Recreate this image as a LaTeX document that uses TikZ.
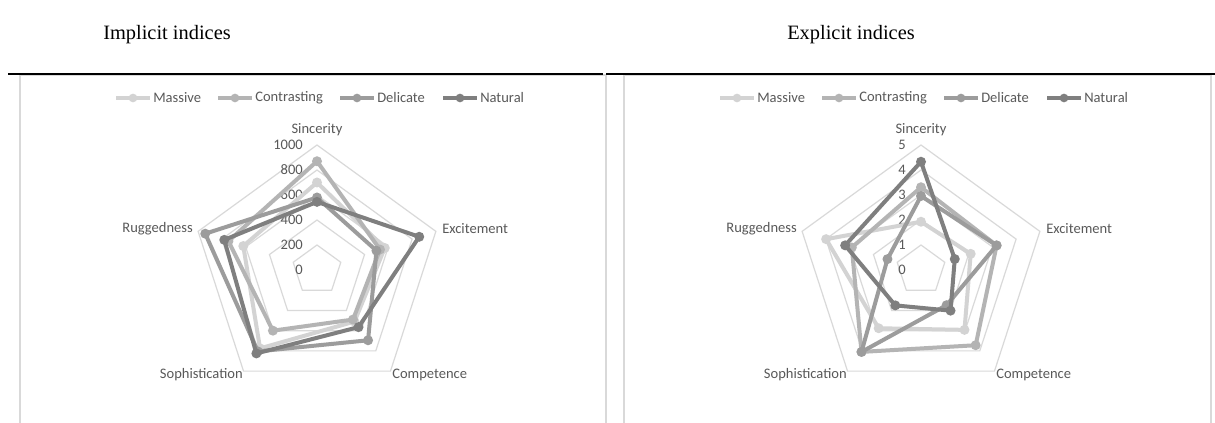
\documentclass[tikz,border=0pt]{standalone}
\usepackage{fontspec}
\setmainfont{Liberation Serif}
\newfontfamily\calfont{Carlito}
\definecolor{cMas}{HTML}{D3D3D3}
\definecolor{cCon}{HTML}{B4B4B4}
\definecolor{cDel}{HTML}{9C9C9C}
\definecolor{cNat}{HTML}{7F7F7F}
\definecolor{cGrid}{HTML}{D9D9D9}
\definecolor{cTxt}{HTML}{595959}
\tikzset{
  ser/.style={line width=3, line join=round, line cap=round},
  dot/.style={circle, inner sep=0pt, minimum size=7.5},
  ldot/.style={circle, inner sep=0pt, minimum size=6.5},
  grid/.style={draw=cGrid, line width=0.9},
  frame/.style={draw=cGrid, line width=0.9},
  lab/.style={text=cTxt, font=\calfont\fontsize{10.9}{13}\selectfont, inner sep=0pt},
  ttl/.style={font=\fontsize{15.3}{18}\selectfont, inner sep=0pt},
  rule/.style={draw=black, line width=1.1}
}
\newcommand{\radarseries}[5]{%
  \foreach \v [count=\k from 0] in {#5} {\coordinate (#1-\k) at ({#2+\v*#3*cos(90-72*\k)},{270-\v*#3*sin(90-72*\k)});}
  \draw[ser,#4] (#1-0) -- (#1-1) -- (#1-2) -- (#1-3) -- (#1-4) -- cycle;
  \foreach \k in {0,...,4} {\node[dot,fill=#4] (#1-m\k) at (#1-\k) {};}
}
\newcommand{\radargrid}[2]{%
  \foreach \i in {1,...,5} {
    \draw[grid] ({#1},{270-25*\i}) -- ({#1+25*\i*cos(18)},{270-25*\i*sin(18)}) -- ({#1+25*\i*cos(-54)},{270-25*\i*sin(-54)}) -- ({#1+25*\i*cos(234)},{270-25*\i*sin(234)}) -- ({#1+25*\i*cos(162)},{270-25*\i*sin(162)}) -- cycle;
  }
  \node[lab] (#2-sin) at (#1,130) {Sincerity};
  \node[lab,anchor=west] (#2-exc) at ({#1+125},229) {Excitement};
  \node[lab,anchor=west] (#2-com) at ({#1+75},375) {Competence};
  \node[lab,anchor=east] (#2-sop) at ({#1-74},375) {Sophistication};
  \node[lab,anchor=east] (#2-rug) at ({#1-124},229) {Ruggedness};
}
\newcommand{\legenditem}[4]{% name, x start, color, text
  \coordinate (#1-a) at (#2,98);
  \coordinate (#1-b) at ({#2+34},98);
  \draw[line width=3,#3] (#1-a) -- (#1-b);
  \node[ldot,fill=#3] (#1-m) at ({#2+17},98) {};
  \node[lab,anchor=west] (#1-t) at ({#2+37},98) {#4};
}
\begin{document}
\begin{tikzpicture}[x=0.75pt,y=-0.75pt]
\useasboundingbox (0,0) rectangle (1215,423);
\clip (0,0) rectangle (1215,423);
\fill[white] (0,0) rectangle (1215,423);
% titles
\node[ttl] (t1) at (167,35) {Implicit indices};
\node[ttl] (t2) at (851,35) {Explicit indices};
% frames
\draw[frame] (20,75) rectangle (606,440);
\draw[frame] (624,75) rectangle (1211,440);
% rules
\draw[rule] (8,74) -- (603,74);
\draw[rule] (606,74) -- (1215,74);
\draw[draw=black,line width=2.2] (8,74) -- (20,74);
\draw[draw=black,line width=2.2] (606,74) -- (624,74);
% left chart
\radargrid{317}{L}
\foreach \val [count=\i from 0] in {0,200,400,600,800,1000} {
  \node[lab,anchor=east] (L-v\i) at (303,{270-25*\i}) {\val};
}
\radarseries{LM}{317}{0.125}{cMas}{700,570,510,775,620}
\radarseries{LC}{317}{0.125}{cCon}{870,530,490,600,745}
\radarseries{LD}{317}{0.125}{cDel}{580,500,695,805,940}
\radarseries{LN}{317}{0.125}{cNat}{545,860,565,825,780}
\legenditem{LL1}{116}{cMas}{Massive}
\legenditem{LL2}{218}{cCon}{Contrasting}
\legenditem{LL3}{340}{cDel}{Delicate}
\legenditem{LL4}{443}{cNat}{Natural}
% right chart
\radargrid{921}{R}
\foreach \val [count=\i from 0] in {0,1,2,3,4,5} {
  \node[lab,anchor=east] (R-v\i) at (906,{270-25*\i}) {\val};
}
\radarseries{RM}{921}{25}{cMas}{1.93,2.09,2.96,2.88,3.99}
\radarseries{RC}{921}{25}{cCon}{3.31,3.18,3.72,4.05,2.91}
\radarseries{RD}{921}{25}{cDel}{2.96,3.18,1.74,4.05,1.41}
\radarseries{RN}{921}{25}{cNat}{4.33,1.42,2.01,1.75,3.19}
\legenditem{RL1}{720}{cMas}{Massive}
\legenditem{RL2}{822}{cCon}{Contrasting}
\legenditem{RL3}{944}{cDel}{Delicate}
\legenditem{RL4}{1047}{cNat}{Natural}
\end{tikzpicture}
\end{document}
